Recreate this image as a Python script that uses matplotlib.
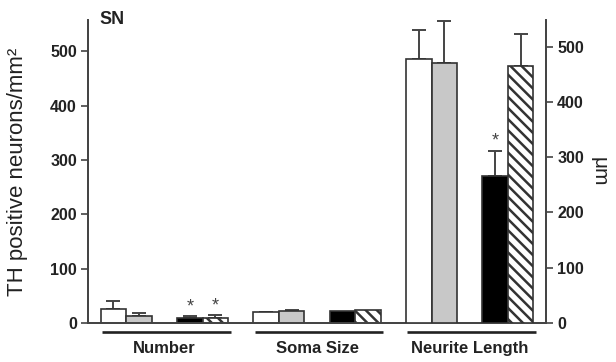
import matplotlib
matplotlib.use("Agg")
import matplotlib.pyplot as plt
import matplotlib.transforms as mtransforms

plt.rcParams['font.family'] = ['Liberation Sans', 'DejaVu Sans']
plt.rcParams['hatch.linewidth'] = 1.8
plt.rcParams['hatch.color'] = '#222222'

groups = ["Number", "Soma Size", "Neurite Length"]
# bar order within a group: open, gray, black, hatched
white_vals = [26, 20, 477]
white_err = [14, 1, 52]
gray_vals = [13, 23, 471]
gray_err = [5, 1, 76]
black_vals = [9, 22, 266]
black_err = [4, 0, 45]
hatch_vals = [10, 24, 464]
hatch_err = [5, 0, 58]
# (group, bar) pairs marked with *
stars = [(0, 2), (0, 3), (2, 2)]

left_ticks = [0, 100, 200, 300, 400, 500]
right_ticks = [0, 100, 200, 300, 400, 500]

fig = plt.figure(figsize=(6.16, 3.62), dpi=100)
ax = fig.add_axes([0.1429, 0.1077, 0.7435, 0.8371])
ax2 = ax.twinx()

ax.set_xlim(-3, 15)
ax.set_ylim(0, 558)
ax2.set_ylim(0, 548)

offsets = [-2, -1, 1, 2]
fills = ['white', '#c8c8c8', 'black', 'white']
hatches = [None, None, None, '\\\\\\']
series = [(white_vals, white_err), (gray_vals, gray_err),
          (black_vals, black_err), (hatch_vals, hatch_err)]
edge = '#333333'

for g in range(len(groups)):
    target = ax if g < 2 else ax2
    for b in range(4):
        vals, errs = series[b]
        x = g * 6 + offsets[b]
        target.bar(x, vals[g], width=1.0, color=fills[b], edgecolor=edge,
                   linewidth=1.2, hatch=hatches[b], zorder=3)
        if errs[g] > 0:
            target.errorbar(x, vals[g], yerr=[[0], [errs[g]]], fmt='none',
                            ecolor='#444444', elinewidth=1.4, capsize=4.8,
                            capthick=1.4, zorder=2)
    for sg, sb in stars:
        if sg == g:
            vals, errs = series[sb]
            off = 0 if g < 2 else 2
            target.text(g * 6 + offsets[sb], vals[g] + errs[g] + off, '*',
                        ha='center', va='bottom', fontsize=13, color='#444444')

trans = mtransforms.blended_transform_factory(ax.transData, ax.transAxes)
for g, name in enumerate(groups):
    ax.plot([g * 6 - 2.45, g * 6 + 2.6], [-0.029, -0.029], transform=trans,
            color='#222222', lw=1.9, clip_on=False, solid_capstyle='butt')
    ax.text(g * 6, -0.083, name, transform=trans, ha='center', va='center',
            fontsize=12, fontweight='bold', color='#222222')

for a in (ax, ax2):
    a.spines['top'].set_visible(False)
    for s in ('left', 'right', 'bottom'):
        a.spines[s].set_color('#444444')
        a.spines[s].set_linewidth(1.3)
    a.tick_params(axis='y', direction='out', length=5, width=1.2,
                  color='#444444', labelsize=11.5, pad=3)

ax.set_xticks([])
ax.set_yticks(left_ticks)
ax.set_yticklabels([str(t) for t in left_ticks], fontweight='bold', color='#222222')
ax2.set_yticks(right_ticks)
ax2.set_yticklabels([str(t) for t in right_ticks], fontweight='bold', color='#222222')

ax.set_ylabel('TH positive neurons/mm²', fontsize=16, color='#222222')
ax.yaxis.set_label_coords(-0.13, 0.5)
ax2.set_ylabel('μm', fontsize=15, color='#222222', rotation=270, labelpad=18)

ax.text(0.025, 1.0, 'SN', transform=ax.transAxes, ha='left', va='center',
        fontsize=13, fontweight='bold', color='#222222')

fig.savefig('out.png', dpi=100)
